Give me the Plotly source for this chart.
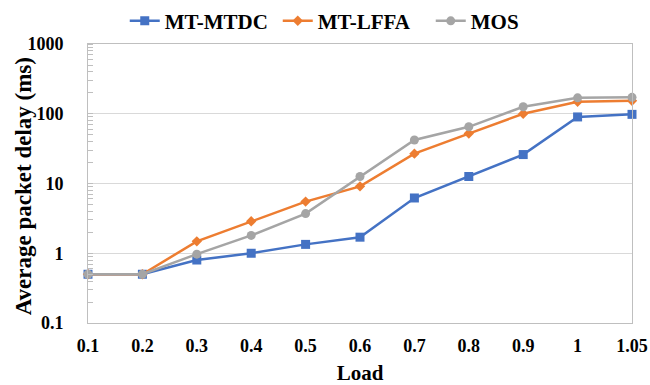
import plotly.graph_objects as go

loads = ["0.1", "0.2", "0.3", "0.4", "0.5", "0.6", "0.7", "0.8", "0.9", "1", "1.05"]
mt_mtdc = [0.5, 0.5, 0.8, 1.0, 1.34, 1.7, 6.2, 12.6, 26, 90, 98]
mt_lffa = [0.5, 0.5, 1.48, 2.87, 5.5, 9.1, 26.8, 52, 100, 148, 153]
mos = [0.5, 0.5, 0.97, 1.8, 3.7, 12.6, 42, 65, 126, 169, 172]
y_ticks = [0.1, 1, 10, 100, 1000]
y_tick_text = ["0.1", "1", "10", "100", "1000"]

FONT = "Liberation Serif"

fig = go.Figure()
series = [
    ("MT-MTDC", mt_mtdc, "#4472C4", "square", 9),
    ("MT-LFFA", mt_lffa, "#ED7D31", "diamond", 8),
    ("MOS", mos, "#A5A5A5", "circle", 9),
]
for name, vals, color, sym, size in series:
    fig.add_trace(go.Scatter(
        x=loads, y=vals, name=name, mode="lines+markers",
        line=dict(color=color, width=2.5),
        marker=dict(symbol=sym, size=size, color=color),
        cliponaxis=False,
    ))

fig.update_layout(
    width=650, height=385,
    margin=dict(l=88, r=18, t=44, b=62, autoexpand=False),
    paper_bgcolor="white", plot_bgcolor="white",
    font=dict(family=FONT, color="black"),
    legend=dict(
        orientation="h", x=0.545, xref="container", xanchor="center",
        y=0.945, yref="container", yanchor="middle",
        font=dict(family=FONT, size=21, weight="bold"),
        itemwidth=30, entrywidth=108,
    ),
    showlegend=True,
    annotations=[dict(
        text="Average packet delay (ms)", textangle=-90,
        xref="paper", yref="paper", x=-(88 - 23) / 544, y=0.49,
        xanchor="center", yanchor="middle", showarrow=False,
        font=dict(family=FONT, size=23, weight="bold", color="black"),
    )],
)
fig.update_xaxes(
    type="category", range=[0, 10],
    showline=True, linecolor="#BFBFBF", linewidth=1, mirror=True,
    showgrid=False, ticks="", ticklabelstandoff=6,
    tickfont=dict(family=FONT, size=18, weight="bold"),
    title=dict(text="Load", font=dict(family=FONT, size=21, weight="bold"), standoff=14),
)
fig.update_yaxes(
    type="log", range=[-1, 3],
    tickvals=y_ticks, ticktext=y_tick_text,
    showline=True, linecolor="#BFBFBF", linewidth=1, mirror=True,
    showgrid=True, gridcolor="#D9D9D9", gridwidth=1,
    ticks="", ticklabelstandoff=20,
    minor=dict(ticks="inside", ticklen=5, tickcolor="#BFBFBF", dtick="D1", showgrid=False),
    tickfont=dict(family=FONT, size=18, weight="bold"),
)

fig.write_html("out.html", config={"displayModeBar": False},
               post_script="document.body.style.margin='0';")
